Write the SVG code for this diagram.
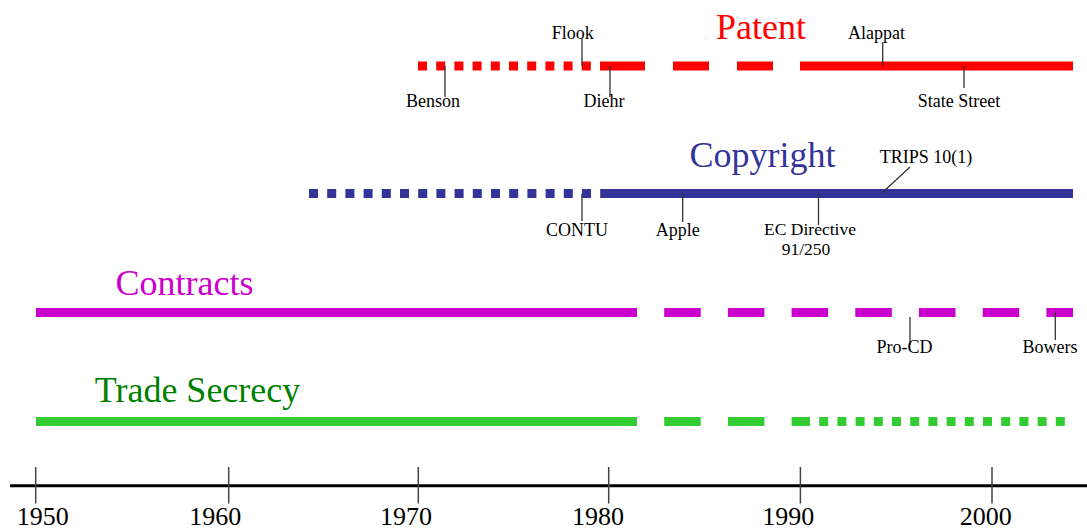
<svg xmlns="http://www.w3.org/2000/svg" width="1087" height="529" viewBox="0 0 1087 529">
  <style>
    .title { font-family: "Liberation Serif", "Times New Roman", serif; font-size: 36px; text-anchor: middle; }
    .lbl { font-family: "Liberation Serif", "Times New Roman", serif; font-size: 18px; fill: #000; text-anchor: middle; }
    .lbl2 { font-size: 17.5px; }
    .year { font-family: "Liberation Serif", "Times New Roman", serif; font-size: 26px; fill: #000; text-anchor: middle; }
    .track { stroke-width: 9; stroke-linecap: butt; fill: none; }
    .dots { stroke-dasharray: 9 9.2; }
    .dash { stroke-dasharray: 36.5 27.2; }
    .lead { stroke: #333; stroke-width: 1.3; fill: none; }
    .tick { stroke: #444; stroke-width: 1.5; }
  </style>
  <rect width="1087" height="529" fill="#fff"/>

  <!-- Patent -->
  <g id="patent">
    <line class="track dots" x1="418" y1="66" x2="609" y2="66" stroke="#FF0000"/>
    <line class="track" x1="609" y1="66" x2="800" y2="66" stroke="#FF0000" stroke-dasharray="36 28"/>
    <line class="track" x1="800" y1="66" x2="1073" y2="66" stroke="#FF0000"/>
    <text class="title" x="761" y="38.5" fill="#FF0000">Patent</text>
  </g>

  <!-- Copyright -->
  <g id="copyright">
    <line class="track dots" x1="309" y1="193.5" x2="609" y2="193.5" stroke="#333399"/>
    <line class="track" x1="609" y1="193.5" x2="1073" y2="193.5" stroke="#333399"/>
    <text class="title" x="762.5" y="167" fill="#333399">Copyright</text>
  </g>

  <!-- Contracts -->
  <g id="contracts">
    <line class="track" x1="36" y1="312.5" x2="610" y2="312.5" stroke="#CC00CC"/>
    <line class="track dash" x1="600.5" y1="312.5" x2="1073" y2="312.5" stroke="#CC00CC"/>
    <text class="title" x="184.5" y="294.5" fill="#CC00CC">Contracts</text>
  </g>

  <!-- Trade secrecy -->
  <g id="trade-secrecy">
    <line class="track" x1="36" y1="421.5" x2="610" y2="421.5" stroke="#33CC33"/>
    <line class="track dash" x1="600.5" y1="421.5" x2="801" y2="421.5" stroke="#33CC33"/>
    <line class="track dots" x1="801" y1="421.5" x2="1065" y2="421.5" stroke="#33CC33"/>
    <text class="title" x="197.5" y="401.5" fill="#008000">Trade Secrecy</text>
  </g>

  <!-- Leader lines from events to their tracks -->
  <g id="connectors">
    <line class="lead" x1="582" y1="39" x2="582" y2="66"/>
    <line class="lead" x1="445" y1="66" x2="445" y2="97"/>
    <line class="lead" x1="610" y1="66" x2="610" y2="97"/>
    <line class="lead" x1="882.7" y1="42" x2="882.7" y2="66"/>
    <line class="lead" x1="964" y1="66" x2="964" y2="88"/>
    <line class="lead" x1="582" y1="193.5" x2="582" y2="221"/>
    <line class="lead" x1="682.7" y1="193.5" x2="682.7" y2="222"/>
    <line class="lead" x1="818.5" y1="193.5" x2="818.5" y2="225"/>
    <line class="lead" x1="882" y1="193" x2="910" y2="167"/>
    <line class="lead" x1="910" y1="317" x2="910" y2="345"/>
    <line class="lead" x1="1055.3" y1="312.5" x2="1055.3" y2="340"/>
  </g>

  <!-- Events -->
  <g id="flook"><text class="lbl" x="572.7" y="39">Flook</text></g>
  <g id="benson"><text class="lbl" x="433" y="106.5">Benson</text></g>
  <g id="diehr"><text class="lbl" x="604" y="106.5">Diehr</text></g>
  <g id="alappat"><text class="lbl" x="876.5" y="39">Alappat</text></g>
  <g id="state-street"><text class="lbl" x="959" y="106.5">State Street</text></g>
  <g id="contu"><text class="lbl" x="577" y="236">CONTU</text></g>
  <g id="apple"><text class="lbl" x="677.7" y="236">Apple</text></g>
  <g id="ec-directive">
    <text class="lbl lbl2" x="810" y="234.5">EC Directive</text>
    <text class="lbl lbl2" x="806" y="254.5">91/250</text>
  </g>
  <g id="trips"><text class="lbl" x="926" y="163">TRIPS 10(1)</text></g>
  <g id="pro-cd"><text class="lbl" x="904.5" y="353">Pro-CD</text></g>
  <g id="bowers"><text class="lbl" x="1050" y="353">Bowers</text></g>

  <!-- Time axis -->
  <g id="axis">
    <line x1="10" y1="485.7" x2="1087" y2="485.7" stroke="#000" stroke-width="3"/>
    <line class="tick" x1="35.7" y1="467" x2="35.7" y2="503.5"/>
    <line class="tick" x1="228.7" y1="467" x2="228.7" y2="503.5"/>
    <line class="tick" x1="418.3" y1="467" x2="418.3" y2="503.5"/>
    <line class="tick" x1="608.7" y1="467" x2="608.7" y2="503.5"/>
    <line class="tick" x1="800.4" y1="467" x2="800.4" y2="503.5"/>
    <line class="tick" x1="992" y1="467" x2="992" y2="503.5"/>
    <text class="year" x="42.8" y="525">1950</text>
    <text class="year" x="215.3" y="525">1960</text>
    <text class="year" x="406" y="525">1970</text>
    <text class="year" x="598" y="525">1980</text>
    <text class="year" x="788.3" y="525">1990</text>
    <text class="year" x="985.7" y="525">2000</text>
  </g>
</svg>
